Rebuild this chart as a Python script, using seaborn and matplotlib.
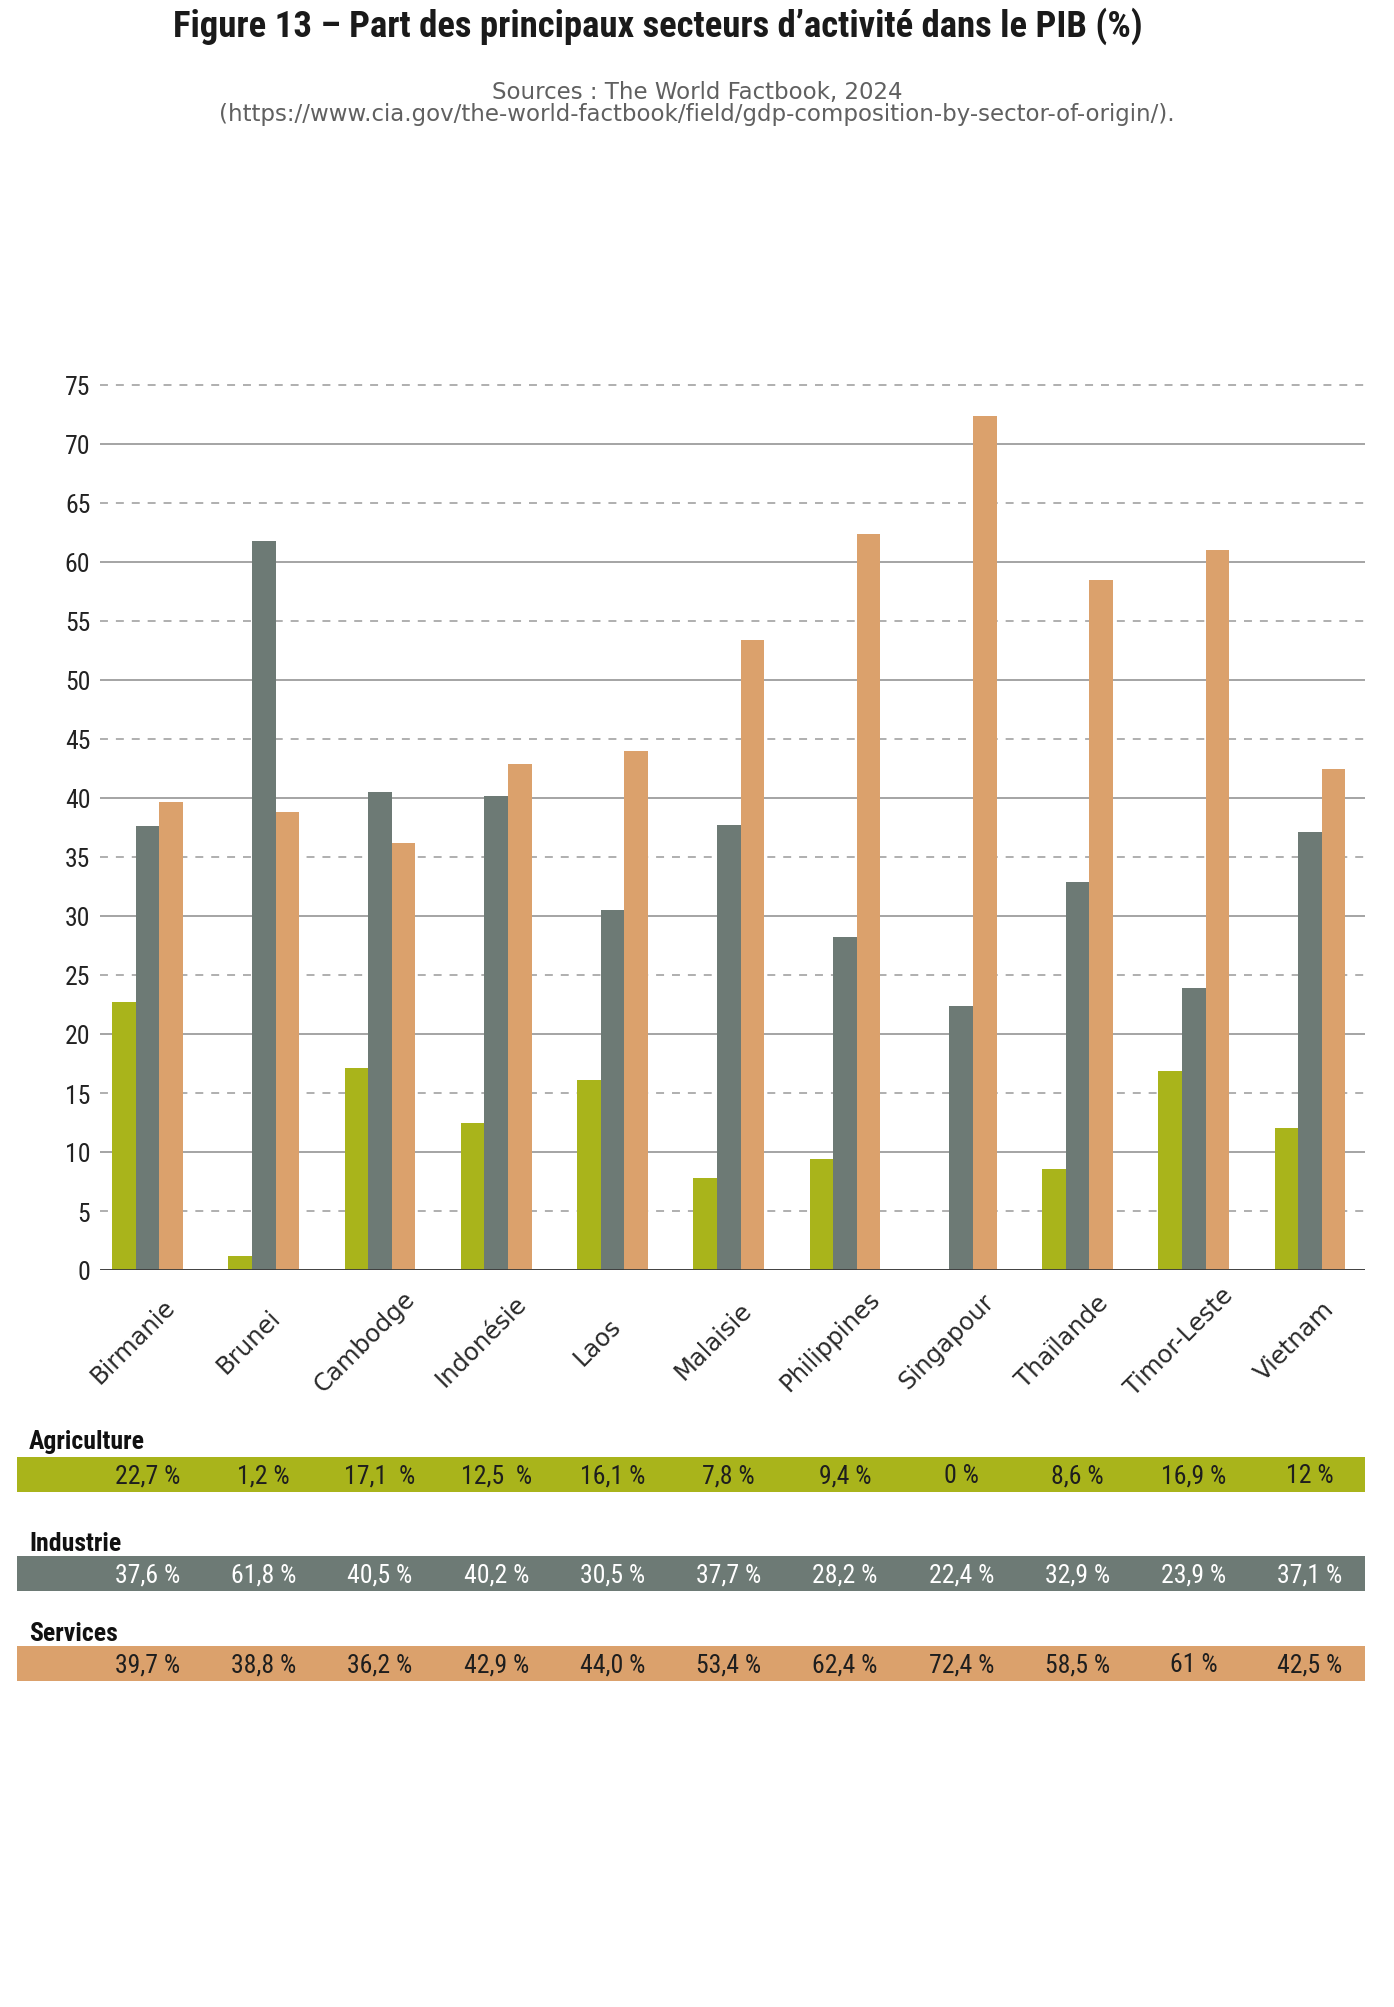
import matplotlib
matplotlib.use("Agg")
import matplotlib.pyplot as plt
from matplotlib.transforms import ScaledTranslation
import seaborn as sns
import pandas as pd
import numpy as np

# ---------------- data ----------------
countries = ["Birmanie", "Brunei", "Cambodge", "Indonésie", "Laos", "Malaisie",
             "Philippines", "Singapour", "Thaïlande", "Timor-Leste", "Vietnam"]
sectors = ["Agriculture", "Industrie", "Services"]
agriculture = [22.7, 1.2, 17.1, 12.5, 16.1, 7.8, 9.4, 0.0, 8.6, 16.9, 12.0]
industrie = [37.6, 61.8, 40.5, 40.2, 30.5, 37.7, 28.2, 22.4, 32.9, 23.9, 37.1]
services = [39.7, 38.8, 36.2, 42.9, 44.0, 53.4, 62.4, 72.4, 58.5, 61.0, 42.5]

agri_labels = ["22,7 %", "1,2 %", "17,1  %", "12,5  %", "16,1 %", "7,8 %",
               "9,4 %", "0 %", "8,6 %", "16,9 %", "12 %"]
indu_labels = ["37,6 %", "61,8 %", "40,5 %", "40,2 %", "30,5 %", "37,7 %",
               "28,2 %", "22,4 %", "32,9 %", "23,9 %", "37,1 %"]
serv_labels = ["39,7 %", "38,8 %", "36,2 %", "42,9 %", "44,0 %", "53,4 %",
               "62,4 %", "72,4 %", "58,5 %", "61 %", "42,5 %"]

major_ticks = [0, 10, 20, 30, 40, 50, 60, 70]
minor_ticks = [5, 15, 25, 35, 45, 55, 65, 75]

title = "Figure 13 – Part des principaux secteurs d’activité dans le PIB (%)"
source1 = "Sources : The World Factbook, 2024"
source2 = "(https://www.cia.gov/the-world-factbook/field/gdp-composition-by-sector-of-origin/)."

# ---------------- style ----------------
colors = {"Agriculture": "#A9B41B", "Industrie": "#6D7A75", "Services": "#DBA16C"}
COND = ["Roboto Condensed", "Liberation Sans Narrow", "Roboto", "DejaVu Sans"]
SANS = ["DejaVu Sans"]

sns.set_theme(style="white")
plt.rcParams["font.family"] = COND

W, H = 1394, 2008
fig = plt.figure(figsize=(W / 100, H / 100), dpi=100)
fig.patch.set_facecolor("white")

# main chart geometry (pixels)
x_left, x_right = 100, 1365
y_zero, px_per_unit = 1271, 11.8
y_top_val = 75.6
y_top = y_zero - y_top_val * px_per_unit
c0, pitch = 147.5, 116.25

ax = fig.add_axes([x_left / W, 1 - y_zero / H, (x_right - x_left) / W,
                   (y_zero - y_top) / H])

df = pd.DataFrame({
    "pays": countries * 3,
    "secteur": [s for s in sectors for _ in countries],
    "valeur": agriculture + industrie + services,
})

sns.barplot(data=df, x="pays", y="valeur", hue="secteur", order=countries,
            hue_order=sectors, palette=colors, width=0.61, saturation=1,
            linewidth=0, legend=False, ax=ax, errorbar=None)

ax.set_xlim((x_left - c0) / pitch, (x_right - c0) / pitch)
ax.set_ylim(0, y_top_val)
ax.set_xlabel("")
ax.set_ylabel("")
for s in ax.spines.values():
    s.set_visible(False)

ax.set_yticks(major_ticks)
ax.set_yticks(minor_ticks, minor=True)
ax.set_yticklabels([str(t) for t in major_ticks], fontsize=18.5, color="#222222")
ax.set_yticklabels([str(t) for t in minor_ticks], minor=True, fontsize=18.5,
                   color="#222222")
ax.tick_params(axis="y", which="both", length=0, pad=7)
ax.grid(False)
ax.yaxis.grid(True, which="major", color="#8c8c8c", linestyle="-", linewidth=1.1)
ax.yaxis.grid(True, which="minor", color="#9a9a9a", linestyle=(0, (5.2, 5.2)),
              linewidth=1.1)
ax.set_axisbelow(True)
ax.axhline(0, color="#3a3a3a", linewidth=2.0, zorder=5)

ax.set_xticks(range(len(countries)))
ax.set_xticklabels(countries, rotation=45, ha="center", va="center",
                   rotation_mode="anchor", fontsize=17.5, color="#2a2a2a",
                   family=SANS)
ax.tick_params(axis="x", length=0, pad=51)
off = ScaledTranslation(-15 / 100, 0, fig.dpi_scale_trans)
for lab in ax.get_xticklabels():
    lab.set_transform(lab.get_transform() + off)

# ---------------- table of values ----------------
t_left = 17
tax = fig.add_axes([t_left / W, 0, (x_right - t_left) / W, 1])
tax.set_xlim((t_left - c0) / pitch, (x_right - c0) / pitch)
tax.set_ylim(H, 0)
tax.axis("off")

band_tops = [1458, 1557, 1647]
label_tops = [1430, 1532, 1622]
band_h = 35
row_labels = [agri_labels, indu_labels, serv_labels]
text_colors = ["#1e1e1e", "#ffffff", "#1e1e1e"]

for sec, top, ltop, labs, tc in zip(sectors, band_tops, label_tops, row_labels,
                                    text_colors):
    tax.axhspan(top, top + band_h, xmin=0, xmax=1, color=colors[sec], lw=0)
    for i, lab in enumerate(labs):
        tax.text(i, top + band_h / 2 + 1, lab, ha="center", va="center",
                 fontsize=18.5, color=tc)
    fig.text(29 / W, 1 - ltop / H, sec, ha="left", va="top", fontsize=18.5,
             fontweight="bold", color="#111111")

# ---------------- titles ----------------
fig.text(658 / W, 1 - 26 / H, title, ha="center", va="center", fontsize=26.5,
         fontweight="bold", color="#1a1a1a")
fig.text(697 / W, 1 - 92 / H, source1, ha="center", va="center", fontsize=16.5,
         color="#606060", family=SANS)
fig.text(697 / W, 1 - 115 / H, source2, ha="center", va="center", fontsize=16.5,
         color="#606060", family=SANS)

fig.savefig("out.png", dpi=100, facecolor="white")
